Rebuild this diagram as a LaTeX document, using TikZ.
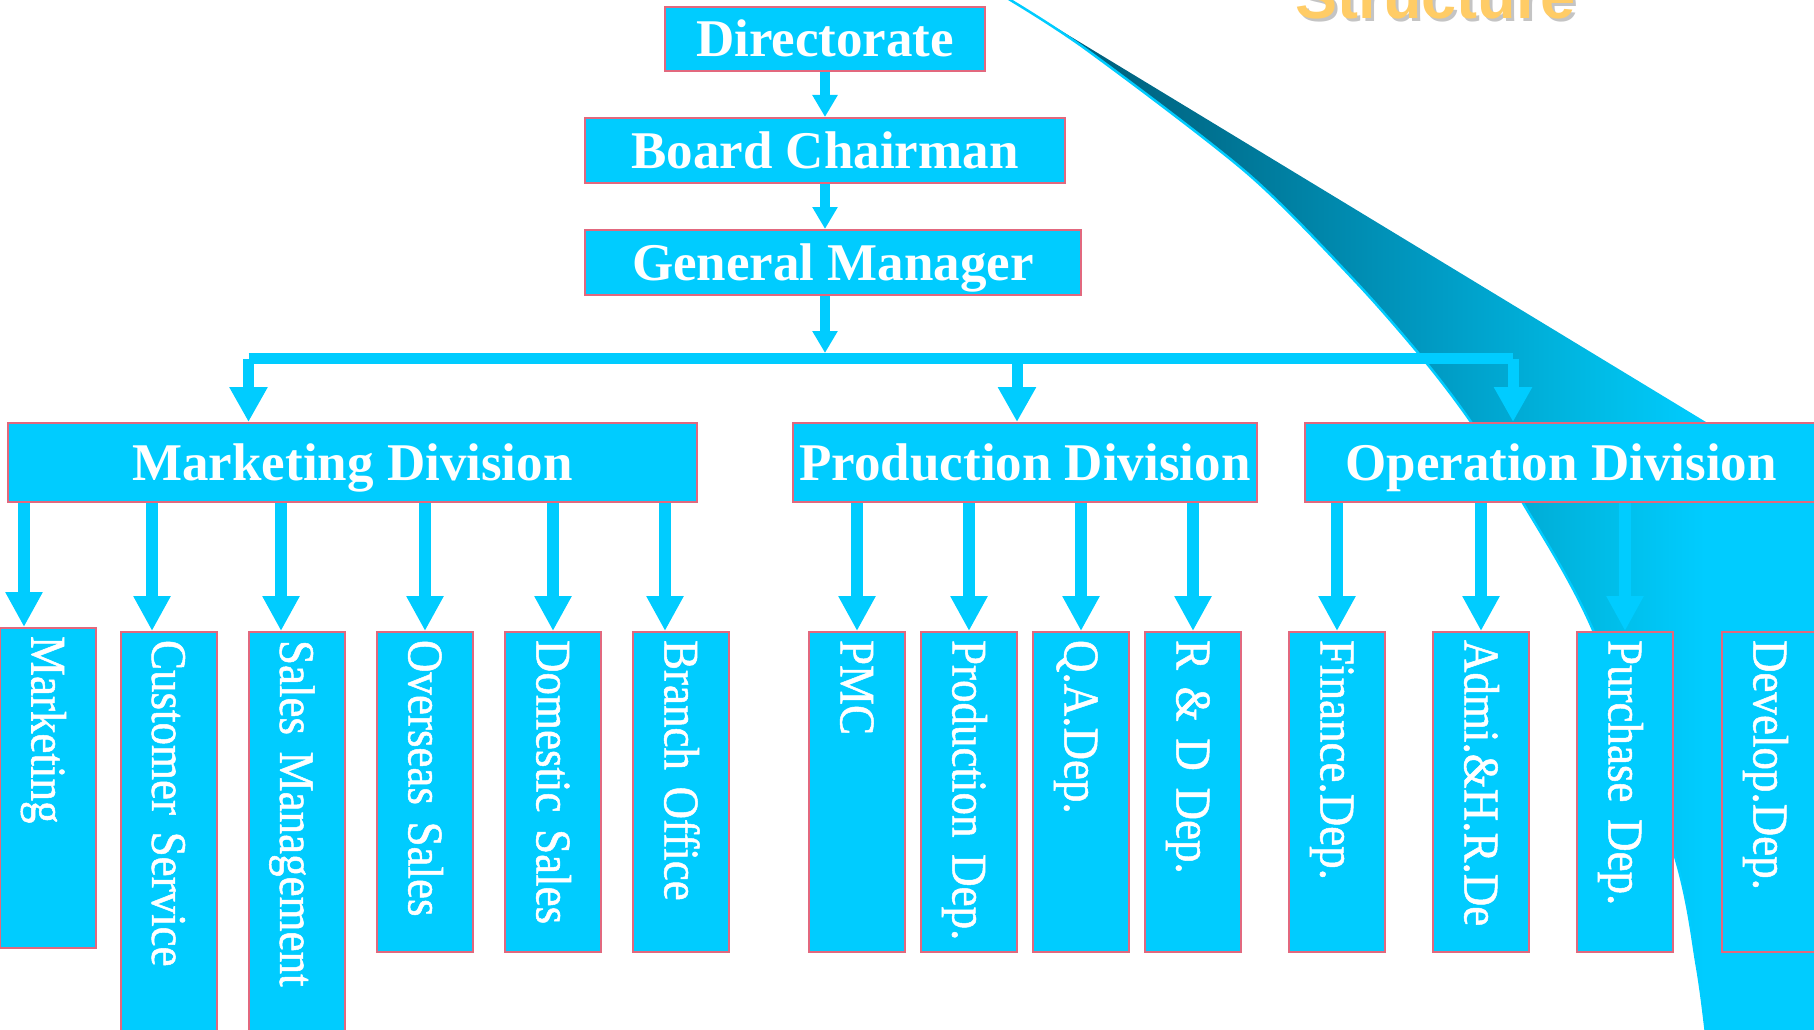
\documentclass[tikz,border=0pt]{standalone}
\usepackage{fontspec}
\setmainfont{Liberation Serif}
\newfontfamily\headfont{Liberation Sans}
\newfontfamily\deptfont[FakeStretch=0.9,FakeBold=1]{Liberation Serif}
\usetikzlibrary{arrows.meta}
\definecolor{boxfill}{HTML}{00CCFF}
\definecolor{boxline}{HTML}{E2687E}
\definecolor{swA}{HTML}{005570}
\definecolor{swB}{HTML}{00708F}
\definecolor{swC}{HTML}{009DC6}
\definecolor{swD}{HTML}{00BDE8}
\definecolor{headcol}{HTML}{FFCC66}
\definecolor{headshadow}{HTML}{C4C4C4}
\pgfdeclarehorizontalshading{swoosh}{100bp}{color(0bp)=(swA); color(25bp)=(swA); color(37bp)=(swB); color(52bp)=(swC); color(62bp)=(swD); color(68bp)=(boxfill); color(100bp)=(boxfill)}
\tikzset{unit/.style={draw=boxline,line width=2pt,fill=boxfill,text=white,inner sep=0pt},
  head/.style={unit,font=\fontsize{53}{60}\selectfont\bfseries,text height=36pt,text depth=0pt},
  dept/.style={unit,rotate=-90,anchor=west,font=\deptfont\fontsize{50}{58}\selectfont,
    minimum height=96pt,text width=304pt,align=left,inner xsep=8pt,
    text height=33pt,text depth=0pt},
  longdept/.style={dept,text width=404pt},
  toparr/.style={draw=boxfill,line width=9.5pt,-{Triangle[width=24pt,length=22pt]}},
  bus/.style={draw=boxfill,line width=11pt},
  droparr/.style={draw=boxfill,line width=11pt,-{Triangle[width=36pt,length=35pt]}},
  subarr/.style={draw=boxfill,line width=12pt,-{Triangle[width=35pt,length=35pt]}}}

\begin{document}
\begin{tikzpicture}[x=1pt,y=-1pt]
          \def\W{1814} \def\H{1030}
          \useasboundingbox (0,0) rectangle (\W,\H);
          \clip (0,0) rectangle (\W,\H);

          % swoosh in the background
          \shade[shading=swoosh] (1007,-2) -- (1818,490) -- (1818,1034) -- plot[smooth] coordinates {(1706,1034) (1697,967) (1674,853) (1593,630) (1523,503) (1471,422) (1424,360) (1354,280) (1247,173) (1087,50) (1007,-2)} -- cycle;
          \draw[boxfill,line width=2.5pt] plot[smooth] coordinates {(1706,1034) (1697,967) (1674,853) (1593,630) (1523,503) (1471,422) (1424,360) (1354,280) (1247,173) (1087,50) (1007,-2)};

          \node[anchor=base west,font=\headfont\fontsize{63}{70}\selectfont\bfseries,text=headshadow] (titleshadow) at (1295,22) {Structure};
          \node[anchor=base west,font=\headfont\fontsize{63}{70}\selectfont\bfseries,text=headcol] (title) at (1292,19) {Structure};

          \node[head,minimum width=320pt,minimum height=64pt] (dir) at (825,39) {Directorate};
          \node[head,minimum width=480pt,minimum height=65pt] (chair) at (825,150.5) {Board Chairman};
          \node[head,minimum width=496pt,minimum height=65pt] (gm) at (833,262.5) {General Manager};

          \node[head,minimum width=689pt,minimum height=79pt] (mkdiv) at (352.5,462.5) {Marketing Division};
          \node[head,minimum width=464pt,minimum height=79pt] (prdiv) at (1025,462.5) {Production Division};
          \node[head,minimum width=512pt,minimum height=79pt] (opdiv) at (1561,462.5) {Operation Division};

          \node[dept] (mkt) at (48,627) {Marketing};
          \node[longdept] (cust) at (168.5,631) {Customer Service};
          \node[longdept] (salesm) at (296.5,631) {Sales Management};
          \node[dept] (oversea) at (425,631) {Overseas Sales};
          \node[dept] (domestic) at (553,631) {Domestic Sales};
          \node[dept] (branch) at (681,631) {Branch Office};
          \node[dept] (pmc) at (857,631) {PMC};
          \node[dept] (proddep) at (969,631) {Production Dep.};
          \node[dept] (qa) at (1081,631) {Q.A.Dep.};
          \node[dept] (rnd) at (1193,631) {R \& D Dep.};
          \node[dept] (fin) at (1337,631) {Finance.Dep.};
          \node[dept] (admi) at (1481,631) {Admi.\&H.R.De};
          \node[dept] (purch) at (1625,631) {Purchase Dep.};
          \node[dept] (devel) at (1770,631) {Develop.Dep.};

          \draw[toparr] (dir) -- (chair);
          \draw[toparr] (chair.south) -- (chair.south |- gm.north);
          \coordinate (busM) at (825,353);
          \draw[toparr] (gm.south -| chair.south) -- (busM);

          \coordinate (busL) at (248.5,358.5);
          \coordinate (busP) at (1017,358.5);
          \coordinate (busR) at (1513,358.5);
          \draw[bus] (busL) -- (busR);
          \draw[droparr] (busL) -- (mkdiv.north -| busL);
          \draw[droparr] (busP) -- (prdiv.north -| busP);
          \draw[droparr] (busR) -- (opdiv.north -| busR);

          \draw[subarr] (mkdiv.south -| 24,0) -- (mkt.west -| 24,0);
          \draw[subarr] (mkdiv.south -| 152,0) -- (cust.west -| 152,0);
          \draw[subarr] (mkdiv.south -| 281,0) -- (salesm.west -| 281,0);
          \draw[subarr] (mkdiv.south -| oversea.west) -- (oversea.west);
          \draw[subarr] (mkdiv.south -| domestic.west) -- (domestic.west);
          \draw[subarr] (mkdiv.south -| 665,0) -- (branch.west -| 665,0);

          \draw[subarr] (prdiv.south -| pmc.west) -- (pmc.west);
          \draw[subarr] (prdiv.south -| proddep.west) -- (proddep.west);
          \draw[subarr] (prdiv.south -| qa.west) -- (qa.west);
          \draw[subarr] (prdiv.south -| rnd.west) -- (rnd.west);

          \draw[subarr] (opdiv.south -| fin.west) -- (fin.west);
          \draw[subarr] (opdiv.south -| admi.west) -- (admi.west);
          \draw[subarr] (opdiv.south -| purch.west) -- (purch.west);
          \draw[subarr] (opdiv.south -| devel.west) -- (devel.west);
        \end{tikzpicture}
\end{document}
